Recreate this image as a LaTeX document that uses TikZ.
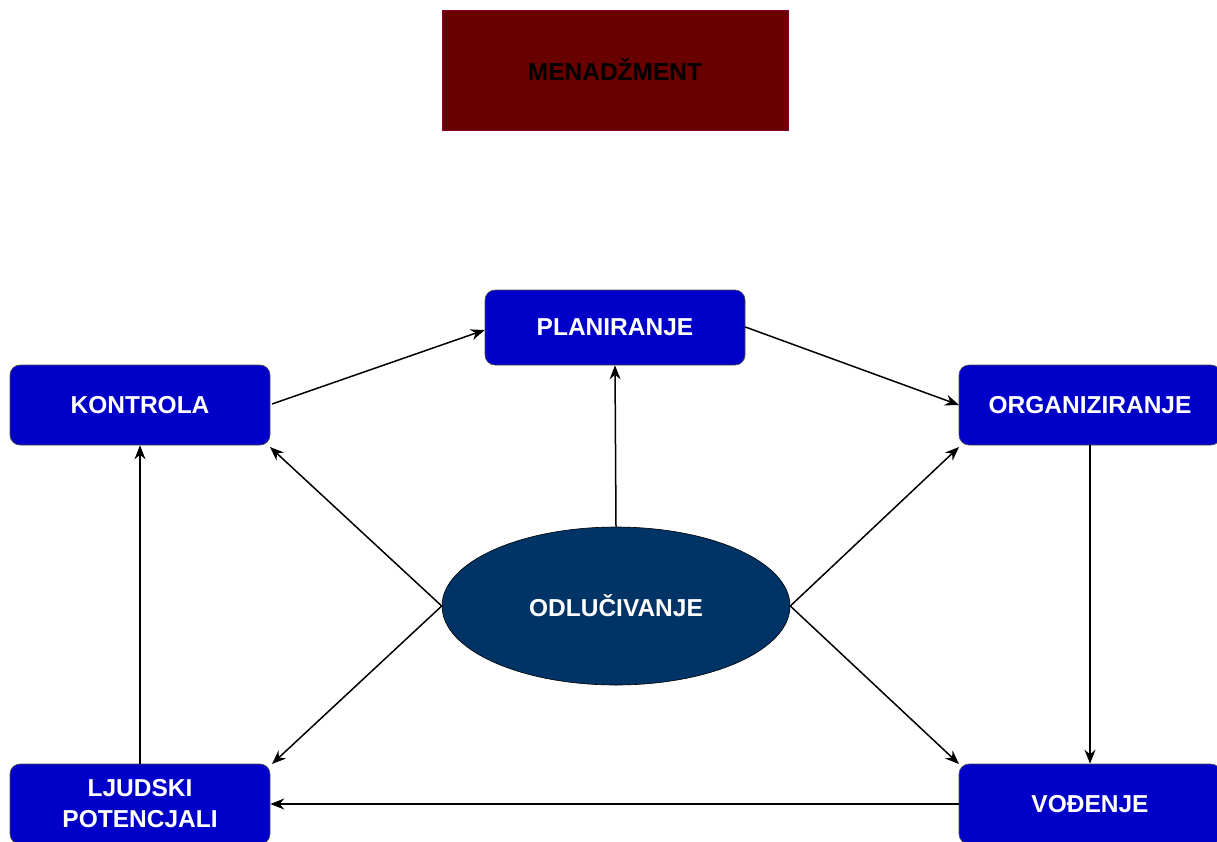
\documentclass[tikz,border=0pt]{standalone}
\usepackage{fontspec}
\setmainfont{Liberation Sans}
\usetikzlibrary{shapes.geometric,arrows.meta}
\definecolor{boxblue}{RGB}{0,0,200}
\definecolor{ellblue}{RGB}{0,52,102}
\definecolor{darkred}{RGB}{104,0,0}
\tikzset{
  bluebox/.style={draw=black!70, line width=0.6pt, fill=boxblue, rounded corners=10pt, text=white,
    font=\fontsize{24.5}{31}\selectfont\bfseries, align=center, inner sep=0pt},
  arr/.style={draw=black, line width=1.5pt, -{Stealth[length=14pt,width=11pt]}}
}
\begin{document}
\begin{tikzpicture}[x=1pt,y=-1pt]
\useasboundingbox (0,0) rectangle (1217,841);
\node[draw=darkred!80!magenta, fill=darkred, minimum width=346pt, minimum height=120pt, inner sep=0pt,
  font=\fontsize{24.5}{25}\selectfont\bfseries, text=black] (men) at (615,70) {MENADŽMENT};
\node[bluebox, minimum width=260pt, minimum height=75pt] (plan) at (615,327.5) {PLANIRANJE};
\node[bluebox, minimum width=260pt, minimum height=80pt] (kon) at (140,405) {KONTROLA};
\node[bluebox, minimum width=262pt, minimum height=80pt] (org) at (1090,405) {ORGANIZIRANJE};
\node[bluebox, minimum width=260pt, minimum height=80pt] (ljud) at (140,804) {LJUDSKI\\POTENCJALI};
\node[bluebox, minimum width=262pt, minimum height=80pt] (vod) at (1090,804) {VOĐENJE};
\node[ellipse, draw=black, line width=0.6pt, fill=ellblue, minimum width=348pt, minimum height=158pt, inner sep=0pt,
  text=white, font=\fontsize{24.5}{25}\selectfont\bfseries] (odl) at (616,606) {ODLUČIVANJE};
\coordinate (kc) at (270,447);
\coordinate (lc) at (272,764);
\coordinate (oc) at (959,447);
\coordinate (vc) at (959,764);
\draw[arr] (272,404) -- (plan.west |- 0,330);
\draw[arr] (plan.east |- 0,327) -- (959,405);
\draw[arr] (org.south) -- (vod.north);
\draw[arr] (vod.west) -- (ljud.east);
\draw[arr] (ljud.north) -- (kon.south);
\draw[arr] (odl.north) -- (plan.south);
\draw[arr] (odl.west) -- (kc);
\draw[arr] (odl.west) -- (lc);
\draw[arr] (odl.east) -- (oc);
\draw[arr] (odl.east) -- (vc);
\end{tikzpicture}
\end{document}
